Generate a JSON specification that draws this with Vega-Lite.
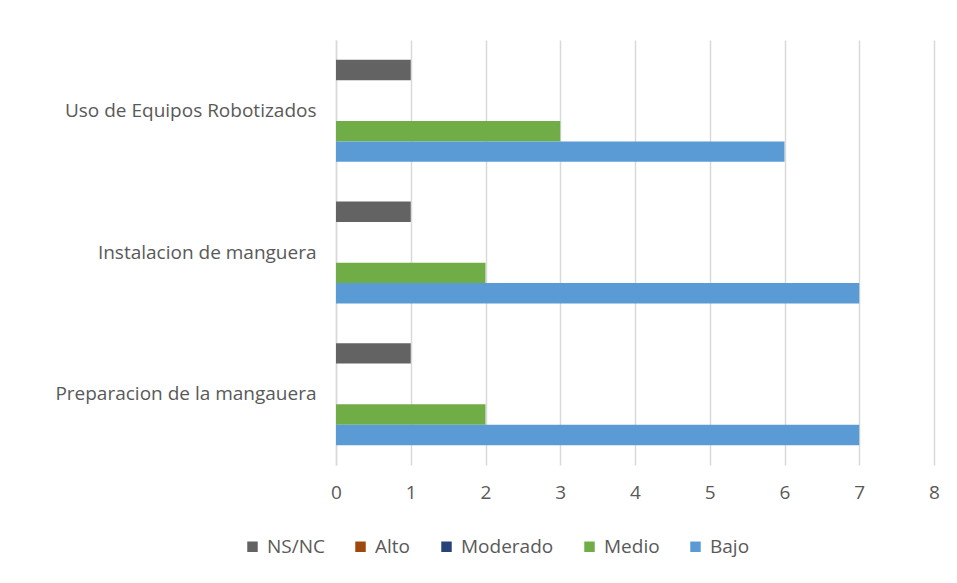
{
  "$schema": "https://vega.github.io/schema/vega-lite/v6.json",
  "width": 598,
  "height": 425,
  "autosize": {"type": "none"},
  "padding": {"left": 336, "top": 40, "right": 23, "bottom": 118},
  "background": "white",
  "config": {
    "view": {"stroke": null},
    "font": "Open Sans",
    "axis": {"labelColor": "#595959", "labelFont": "Open Sans", "labelFontSize": 19, "gridColor": "#d9d9d9", "gridWidth": 1.5},
    "legend": {"labelColor": "#595959", "labelFont": "Open Sans", "labelFontSize": 19}
  },
  "data": {
    "values": [
      {"actividad": "Uso de Equipos Robotizados", "nivel": "NS/NC", "valor": 1},
      {"actividad": "Uso de Equipos Robotizados", "nivel": "Alto", "valor": 0},
      {"actividad": "Uso de Equipos Robotizados", "nivel": "Moderado", "valor": 0},
      {"actividad": "Uso de Equipos Robotizados", "nivel": "Medio", "valor": 3},
      {"actividad": "Uso de Equipos Robotizados", "nivel": "Bajo", "valor": 6},
      {"actividad": "Instalacion de manguera", "nivel": "NS/NC", "valor": 1},
      {"actividad": "Instalacion de manguera", "nivel": "Alto", "valor": 0},
      {"actividad": "Instalacion de manguera", "nivel": "Moderado", "valor": 0},
      {"actividad": "Instalacion de manguera", "nivel": "Medio", "valor": 2},
      {"actividad": "Instalacion de manguera", "nivel": "Bajo", "valor": 7},
      {"actividad": "Preparacion de la mangauera", "nivel": "NS/NC", "valor": 1},
      {"actividad": "Preparacion de la mangauera", "nivel": "Alto", "valor": 0},
      {"actividad": "Preparacion de la mangauera", "nivel": "Moderado", "valor": 0},
      {"actividad": "Preparacion de la mangauera", "nivel": "Medio", "valor": 2},
      {"actividad": "Preparacion de la mangauera", "nivel": "Bajo", "valor": 7}
    ]
  },
  "mark": {"type": "bar"},
  "encoding": {
    "y": {
      "field": "actividad", "type": "nominal",
      "sort": ["Uso de Equipos Robotizados", "Instalacion de manguera", "Preparacion de la mangauera"],
      "scale": {"paddingInner": 0.28, "paddingOuter": 0.14},
      "axis": {"title": null, "ticks": false, "domain": true, "domainColor": "#d9d9d9", "domainWidth": 1.5, "labelPadding": 20, "labelLimit": 400}
    },
    "yOffset": {
      "field": "nivel", "type": "nominal",
      "scale": {"domain": ["NS/NC", "Alto", "Moderado", "Medio", "Bajo"], "paddingInner": 0, "paddingOuter": 0}
    },
    "x": {
      "field": "valor", "type": "quantitative",
      "scale": {"domain": [0, 8]},
      "axis": {"title": null, "values": [0,1,2,3,4,5,6,7,8], "domain": false, "ticks": false, "grid": true, "labelPadding": 18, "labelFlush": false, "labelOverlap": false}
    },
    "color": {
      "field": "nivel", "type": "nominal",
      "scale": {"domain": ["NS/NC", "Alto", "Moderado", "Medio", "Bajo"], "range": ["#636363", "#9e480e", "#264478", "#70ad47", "#5b9bd5"]},
      "legend": {"title": null, "orient": "none", "direction": "horizontal", "legendX": -93, "legendY": 497, "symbolType": "square", "symbolSize": 110, "symbolStrokeWidth": 0, "columnPadding": 26, "labelOffset": 5}
    }
  }
}
